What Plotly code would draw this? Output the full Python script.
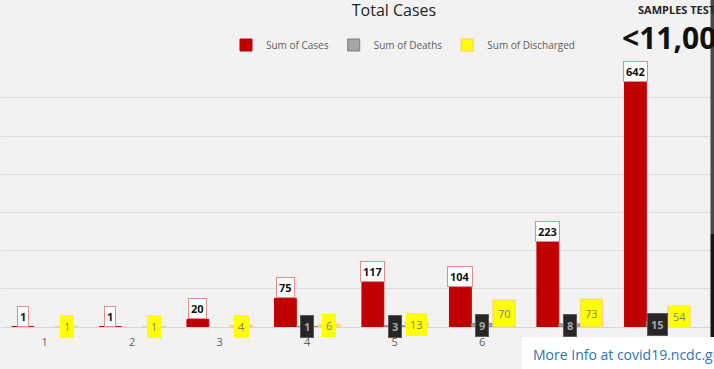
import plotly.graph_objects as go

# ---- data ----
categories = [1, 2, 3, 4, 5, 6, 7, 8, 9]
tick_labels = ["1", "2", "3", "4", "5", "6", "7", "8", "9"]
cases = [1, 1, 20, 75, 117, 104, 223, 642, 170]
deaths = [None, None, None, 1, 3, 9, 8, 15, None]
discharged = [1, 1, 4, 6, 13, 70, 73, 54, None]

# ---- layout geometry (pixels) ----
W, H = 714, 369
ML, MR, MT, MB = 1, 0, 59, 42
PW, PH = W - ML - MR, H - MT - MB
BAR_W = 0.25  # group of 3 bars, bargap 0.25


def px_x(px):
    return (px - ML) / PW


def px_y(py):
    return (H - MB - py) / PH


FONT = "Segoe UI, Open Sans, sans-serif"

fig = go.Figure()
fig.add_trace(go.Bar(
    x=categories, y=cases, name="Sum of Cases",
    marker=dict(color="#c00000", line=dict(color="#c00000", width=1)),
))
fig.add_trace(go.Bar(
    x=categories, y=deaths, name="Sum of Deaths",
    marker=dict(color="#a5a5a5", line=dict(color="#7f7f7f", width=1)),
))
fig.add_trace(go.Bar(
    x=categories, y=discharged, name="Sum of Discharged",
    marker=dict(color="#ffff00", line=dict(color="#ffd966", width=1.5)),
))

annotations = []
for c, v in zip(categories, cases):
    if v is None:
        continue
    annotations.append(dict(
        x=c - BAR_W, y=v, xref="x", yref="y", text=f"<b>{v}</b>",
        showarrow=False, yanchor="bottom", xanchor="center",
        font=dict(family=FONT, size=11, color="#111111"),
        bgcolor="#ffffff", bordercolor="#e48c8c", borderwidth=1, borderpad=2,
    ))
for c, v in zip(categories, deaths):
    if v is None:
        continue
    annotations.append(dict(
        x=c, y=v / 2, xref="x", yref="y", text=f"<b>{v}</b>",
        showarrow=False, yanchor="middle", xanchor="center",
        font=dict(family=FONT, size=11, color="#a6a6a6"),
        bgcolor="#262626", bordercolor="#595959", borderwidth=1, borderpad=3,
    ))
for c, v in zip(categories, discharged):
    if v is None:
        continue
    annotations.append(dict(
        x=c + BAR_W, y=v / 2, xref="x", yref="y", text=f"{v}",
        showarrow=False, yanchor="middle", xanchor="center",
        font=dict(family=FONT, size=11, color="#7f7f7f"),
        bgcolor="#ffff00", bordercolor="#ffff00", borderwidth=1, borderpad=3,
    ))

# side texts
annotations += [
    dict(x=px_x(636), y=px_y(9), xref="paper", yref="paper", text="<b>SAMPLES TESTED</b>",
         showarrow=False, xanchor="left", yanchor="middle",
         font=dict(family=FONT, size=11, color="#252423")),
    dict(x=px_x(620), y=px_y(38), xref="paper", yref="paper", text="<b>&lt;11,000</b>",
         showarrow=False, xanchor="left", yanchor="middle",
         font=dict(family=FONT, size=30, color="#111111")),
    dict(x=px_x(531), y=px_y(354), xref="paper", yref="paper",
         text="More Info at covid19.ncdc.gov.ng",
         showarrow=False, xanchor="left", yanchor="middle",
         font=dict(family=FONT, size=14, color="#2e75b6")),
]

shapes = [
    dict(type="rect", xref="paper", yref="paper", x0=px_x(522), x1=1.0,
         y0=px_y(337), y1=px_y(369), fillcolor="#ffffff", line=dict(width=0), layer="above"),
    dict(type="rect", xref="paper", yref="paper", x0=px_x(710.5), x1=1.0,
         y0=px_y(234), y1=px_y(0), fillcolor="#4a4a4a", line=dict(width=0), layer="above"),
    dict(type="rect", xref="paper", yref="paper", x0=px_x(710.5), x1=1.0,
         y0=px_y(337), y1=px_y(234), fillcolor="#161616", line=dict(width=0), layer="above"),
]

fig.update_layout(
    width=W, height=H,
    margin=dict(l=ML, r=MR, t=MT, b=MB, pad=0),
    paper_bgcolor="#f2f2f2", plot_bgcolor="#f2f2f2",
    barmode="group", bargap=0.25, bargroupgap=0,
    font=dict(family=FONT, color="#605e5c"),
    title=dict(text="Total Cases", x=394 / W, xref="container", xanchor="center",
               y=1 - 10 / H, yref="container", yanchor="middle",
               font=dict(family=FONT, size=16, color="#252423")),
    legend=dict(orientation="h", x=px_x(403), xanchor="center", y=px_y(45), yanchor="middle",
                font=dict(family=FONT, size=10, color="#605e5c"),
                itemwidth=30, bgcolor="rgba(0,0,0,0)", traceorder="normal"),
    xaxis=dict(range=[0.5, 0.5 + PW / 87.5], tickvals=categories, ticktext=tick_labels,
               showgrid=False, zeroline=False, showline=False, ticks="",
               ticklabelstandoff=7,
               tickfont=dict(family=FONT, size=11, color="#605e5c")),
    yaxis=dict(range=[0, 702], dtick=100, showticklabels=False, showgrid=True,
               gridcolor="#dedede", gridwidth=1, zeroline=True, zerolinecolor="#d6d6d6",
               zerolinewidth=1, showline=False),
    annotations=annotations,
    shapes=shapes,
    showlegend=True,
)

fig.write_html(
    "out.html",
    config={"displayModeBar": False},
    post_script="document.body.style.margin='0';document.body.style.overflow='hidden';",
)
